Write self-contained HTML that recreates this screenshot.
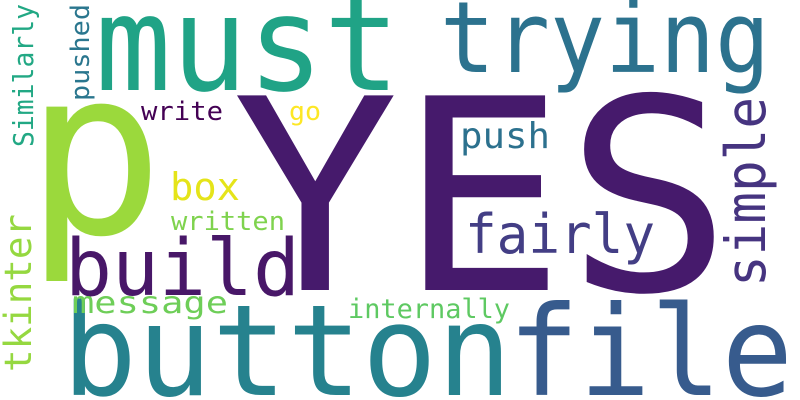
<!DOCTYPE html>
<html><head><meta charset="utf-8"><style>
html,body{margin:0;padding:0;background:#fff;width:800px;height:400px;overflow:hidden;}
svg{display:block;overflow:hidden;}
text{font-family:"DejaVu Sans Mono","Liberation Mono",monospace;}
</style></head>
<body>
<svg id="cloud" width="800" height="400" viewBox="0 0 800 400" xmlns="http://www.w3.org/2000/svg">
<rect width="800" height="400" fill="#ffffff"/>
</svg>
<script>
const words = ["YES","p","must","trying","button","file","build","fairly","message","internally","written","box","write","go","push","Similarly","pushed","tkinter","simple"];
const sizes = [267,231,132,99,127,125,78,54,30,27,26,38,26,26,36,28,26,37,55];
const colors = ["#461a6c","#9bd93c","#20a386","#2c728e","#26828e","#375b8d","#481768","#433e85","#6ece58","#5ec962","#7fd34e","#e5e419","#440154","#fde725","#2c718e","#22a884","#2a768e","#95d840","#463480"];
const xs = [232,25,95,440,62,508,65,465,72,348,171,170,141,289,460,33,89,31,765];
const ys = [290,233,90,72,395,395,295,253,313,318,230,200,120,120,148,147,101,372,287];
const lens = [500,139,305,330,450,285,235,190,156,162,114,70,82,32,90,143,97,158,190];
const vertical = [0,0,0,0,0,0,0,0,0,0,0,0,0,0,0,1,1,1,1];
const svg = document.getElementById('cloud');
const NS = "http://www.w3.org/2000/svg";
for (let i = 0; i < words.length; i++) {
  const t = document.createElementNS(NS, 'text');
  
  
  t.setAttribute('font-size', sizes[i]);
  t.setAttribute('fill', colors[i]);
  t.setAttribute('textLength', lens[i]);
  t.setAttribute('lengthAdjust', 'spacingAndGlyphs');
  if (vertical[i]) {
    t.setAttribute('x', 0);
    t.setAttribute('y', 0);
    t.setAttribute('transform', 'translate(' + xs[i] + ',' + ys[i] + ') rotate(-90)');
  } else {
    t.setAttribute('x', xs[i]);
    t.setAttribute('y', ys[i]);
  }
  t.textContent = words[i];
  svg.appendChild(t);
}
</script>
</body></html>
